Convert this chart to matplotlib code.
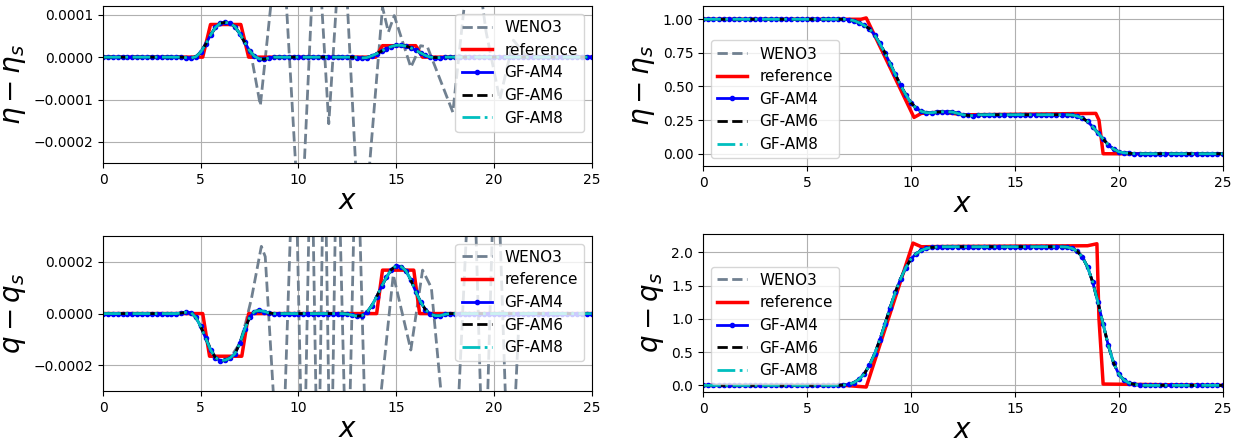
import numpy as np
import matplotlib
matplotlib.use("Agg")
import matplotlib.pyplot as plt

# grid of the GF solutions (every 0.25)
x_gf = np.linspace(0, 25, 101)

# ---- eta - eta_s, small perturbation (values in units of 1e-4)
eta_small_gf = ([0.0] * 17 +
                [-0.01, -0.02, 0.01, 0.12, 0.30, 0.52, 0.70, 0.80, 0.82, 0.80,
                 0.72, 0.55, 0.35, 0.15, 0.02, -0.04, -0.05, -0.02, 0.0] +
                [0.0] * 16 +
                [-0.01, -0.02, -0.01, 0.03, 0.08, 0.14, 0.20, 0.25, 0.28, 0.28,
                 0.26, 0.22, 0.16, 0.10, 0.04, 0.0, -0.01, -0.01, 0.0] +
                [0.0] * 30)
eta_small_ref_x = [0, 5.1, 5.5, 7.05, 7.45, 13.95, 14.3, 16.0, 16.35, 25]
eta_small_ref_y = [0, 0, 0.77, 0.77, 0, 0, 0.27, 0.27, 0, 0]
eta_small_weno_x = [0, 4.8, 5.3, 5.75, 6.25, 6.75, 7.25, 7.6, 8.05, 9.1, 10.1, 10.9,
                    11.55, 12.25, 13.2, 14.3, 14.6, 14.9, 15.75, 16.25, 16.6, 17.9,
                    18.9, 19.6, 20.3, 21.0, 21.7, 25]
eta_small_weno_y = [0, 0, 0.35, 0.70, 0.82, 0.72, 0.35, 0.0, -1.14, 3.5, -4.5, 3.5,
                    -1.57, 3.5, -5.0, 1.18, 0.59, 0.98, -0.24, 0.27, 0.24, -1.3,
                    3.0, 0.6, -1.0, 0.4, 0, 0]

# ---- q - q_s, small perturbation (values in units of 1e-4)
q_small_gf = ([0.0] * 16 +
              [0.02, 0.05, 0.04, -0.15, -0.50, -0.95, -1.40, -1.70, -1.82, -1.80,
               -1.72, -1.55, -1.15, -0.60, -0.15, 0.08, 0.12, 0.08, 0.02, 0.0] +
              [0.0] * 14 +
              [-0.02, -0.06, -0.10, -0.08, 0.05, 0.30, 0.65, 1.05, 1.40, 1.70, 1.85,
               1.82, 1.65, 1.30, 0.85, 0.45, 0.15, -0.02, -0.08, -0.08, -0.03, 0.0] +
              [0.0] * 29)
q_small_ref_x = [0, 5.1, 5.45, 7.1, 7.45, 14.0, 14.3, 15.9, 16.2, 25]
q_small_ref_y = [0, 0, -1.65, -1.65, 0, 0, 1.68, 1.68, 0, 0]
q_small_weno_x = [0, 4.7, 5.25, 5.75, 6.1, 6.5, 7.0, 7.3, 7.6, 8.1, 8.3, 9.1, 9.8,
                  10.25, 10.65, 11.0, 11.32, 11.65, 11.98, 12.5, 12.97, 13.55, 14.85,
                  15.75, 16.35, 16.8, 17.9, 18.9, 19.5, 20.1, 20.8, 21.3, 25]
q_small_weno_y = [0, 0, -0.95, -1.70, -1.82, -1.72, -1.15, -0.35, 0.6, 2.6, 2.2, -8, 8,
                  -8, 8, -8, 8, -8, 8, -8, 8, -8, 1.5,
                  -1.41, 1.68, 1.0, -8, 8, -8, 8, -8, 0, 0]

# ---- eta - eta_s, large perturbation
eta_big_gf = ([1.0] * 28 +
              [0.998, 0.99, 0.975, 0.955, 0.93, 0.885, 0.82, 0.75, 0.67, 0.59,
               0.51, 0.44, 0.38, 0.34, 0.315, 0.305, 0.305, 0.31, 0.312, 0.313,
               0.31, 0.30, 0.29, 0.285, 0.283] +
              [0.29] * 18 +
              [0.288, 0.28, 0.265, 0.24, 0.20, 0.155, 0.11, 0.065, 0.035, 0.015,
               0.007, 0.003, 0.001] +
              [0.0] * 17)
eta_big_ref_x = [0, 7.6, 7.85, 10.15, 10.5, 11.5, 12.5, 13.0, 18.9, 19.05, 19.25, 25]
eta_big_ref_y = [1.0, 1.0, 1.01, 0.27, 0.30, 0.31, 0.29, 0.29, 0.30, 0.25, 0.0, 0.0]

# ---- q - q_s, large perturbation
q_big_gf = ([0.0] * 27 +
            [0.005, 0.015, 0.04, 0.09, 0.17, 0.30, 0.47, 0.68, 0.92, 1.17, 1.40,
             1.60, 1.77, 1.90, 1.98, 2.03, 2.06, 2.075, 2.08] +
            [2.085] * 24 +
            [2.08, 2.06, 2.02, 1.93, 1.78, 1.55, 1.25, 0.92, 0.60, 0.34, 0.17,
             0.08, 0.035, 0.015, 0.005] +
            [0.0] * 16)
q_big_ref_x = [0, 6.8, 7.85, 10.1, 10.5, 12.0, 18.5, 18.95, 19.05, 19.25, 25]
q_big_ref_y = [0, 0, -0.025, 2.14, 2.085, 2.09, 2.10, 2.13, 1.0, 0.02, 0.0]


def draw(ax, weno_x, weno_y, ref_x, ref_y, gf, scale, legend_loc):
    ax.plot(weno_x, np.array(weno_y) * scale, '--', color='slategray', lw=2, label='WENO3')
    ax.plot(ref_x, np.array(ref_y) * scale, '-', color='red', lw=2.5, label='reference')
    gf = np.array(gf) * scale
    ax.plot(x_gf, gf, '-', color='blue', marker='.', ms=6, lw=2, label='GF-AM4')
    ax.plot(x_gf, gf, '--', color='black', lw=2, label='GF-AM6')
    ax.plot(x_gf, gf, '-.', color='c', lw=2, label='GF-AM8')
    ax.set_xlim(0, 25)
    ax.set_xticks([0, 5, 10, 15, 20, 25])
    ax.grid(True)
    ax.set_xlabel('$x$', fontsize=20, labelpad=0)
    ax.legend(loc=legend_loc, fontsize=11)


fig = plt.figure(figsize=(12.4, 4.47), dpi=100)
ax1 = fig.add_axes([0.0831, 0.635, 0.394, 0.351])
ax2 = fig.add_axes([0.567, 0.629, 0.419, 0.358])
ax3 = fig.add_axes([0.0831, 0.125, 0.394, 0.347])
ax4 = fig.add_axes([0.567, 0.123, 0.419, 0.354])

draw(ax1, eta_small_weno_x, eta_small_weno_y, eta_small_ref_x, eta_small_ref_y,
     eta_small_gf, 1e-4, 'upper right')
ax1.set_ylim(-2.5e-4, 1.2e-4)
ax1.set_yticks([-2e-4, -1e-4, 0, 1e-4])
ax1.ticklabel_format(axis='y', style='plain', useOffset=False)
ax1.set_ylabel(r'$\eta-\eta_s$', fontsize=20)

draw(ax3, q_small_weno_x, q_small_weno_y, q_small_ref_x, q_small_ref_y,
     q_small_gf, 1e-4, 'upper right')
ax3.set_ylim(-3e-4, 3e-4)
ax3.set_yticks([-2e-4, 0, 2e-4])
ax3.ticklabel_format(axis='y', style='plain', useOffset=False)
ax3.set_ylabel(r'$q-q_s$', fontsize=20)

draw(ax2, x_gf, eta_big_gf, eta_big_ref_x, eta_big_ref_y, eta_big_gf, 1.0, 'lower left')
ax2.set_ylim(-0.09, 1.1)
ax2.set_yticks([0, 0.25, 0.5, 0.75, 1.0])
ax2.set_ylabel(r'$\eta-\eta_s$', fontsize=20)

draw(ax4, x_gf, q_big_gf, q_big_ref_x, q_big_ref_y, q_big_gf, 1.0, 'lower left')
ax4.set_ylim(-0.1, 2.28)
ax4.set_yticks([0, 0.5, 1.0, 1.5, 2.0])
ax4.set_ylabel(r'$q-q_s$', fontsize=20)

fig.savefig('out.png')
